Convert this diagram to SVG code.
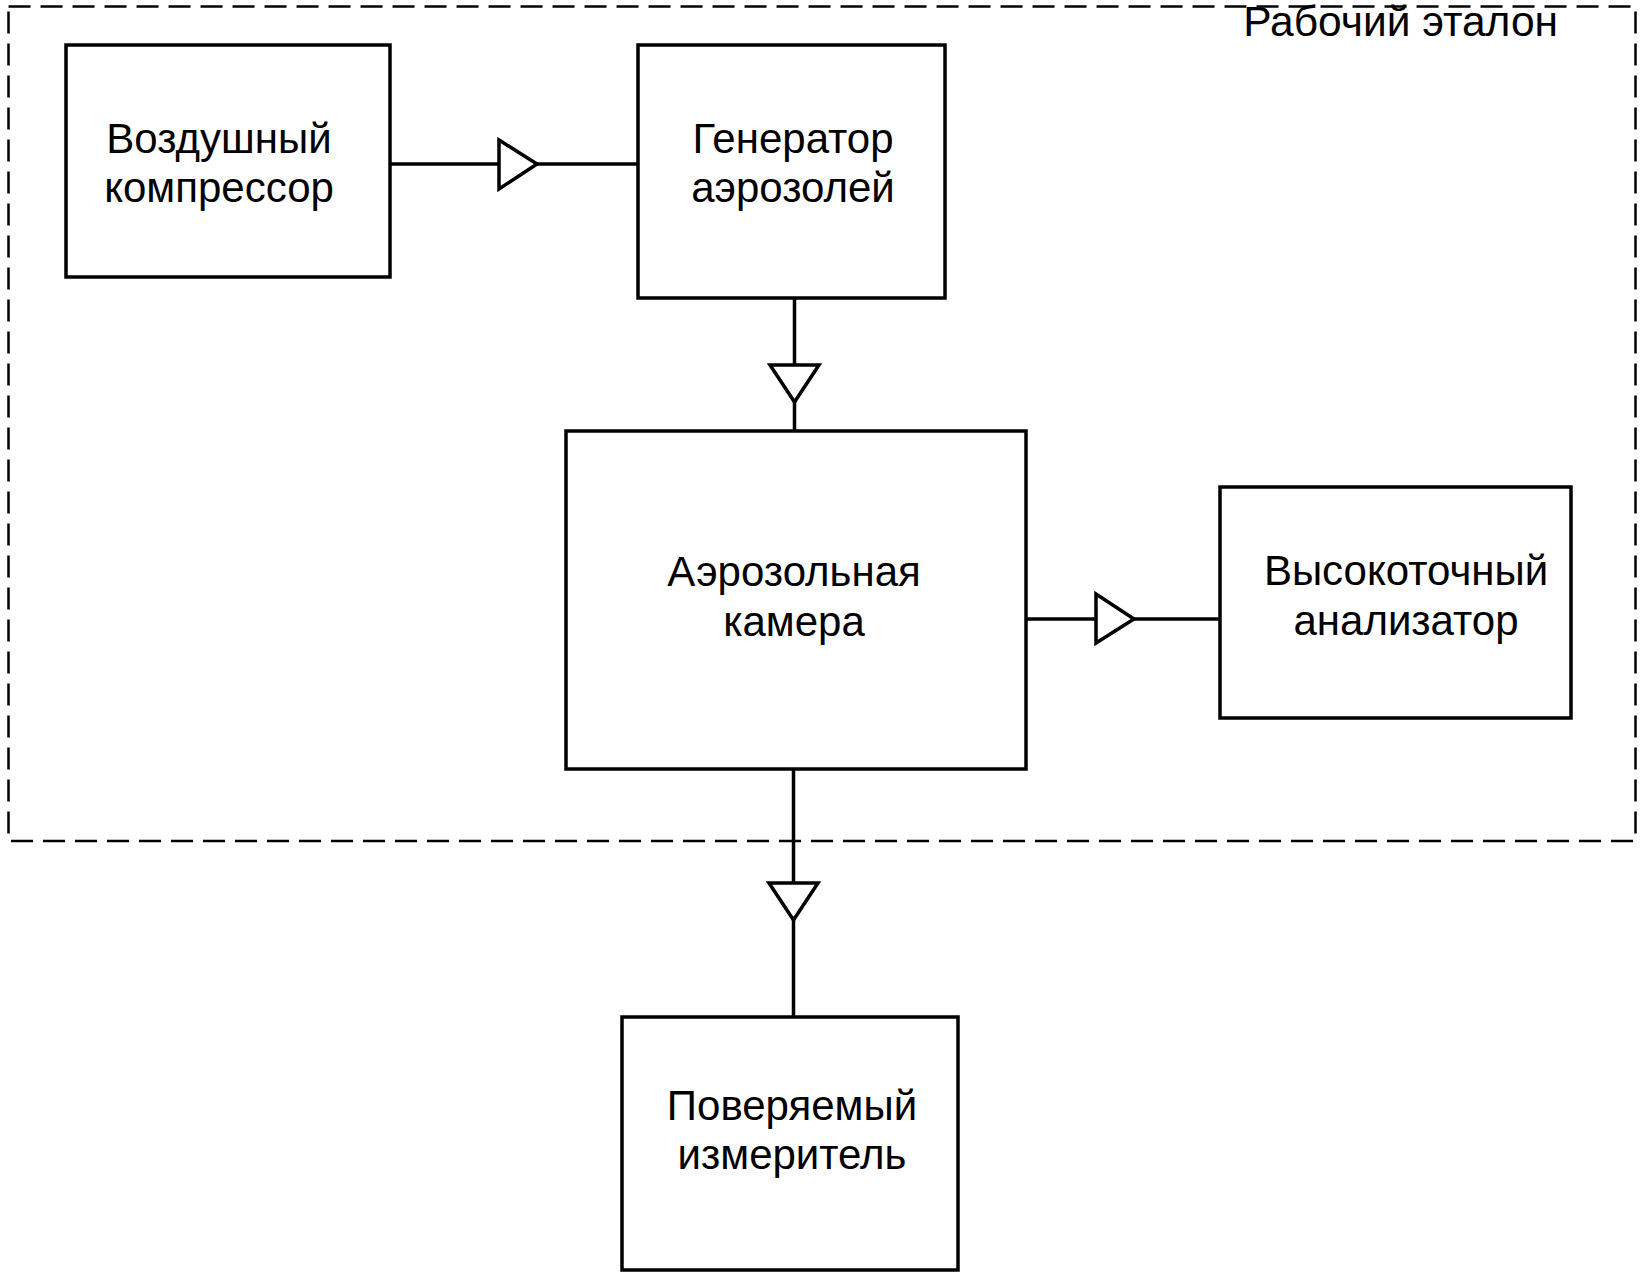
<svg xmlns="http://www.w3.org/2000/svg" width="1646" height="1277" viewBox="0 0 1646 1277">
<style>
.box{fill:#fff;stroke:#000;stroke-width:3.5}
.lbl{font-family:"Liberation Sans",Arial,sans-serif;font-size:42px;fill:#000;text-anchor:middle}
.title{font-family:"Liberation Sans",Arial,sans-serif;font-size:42.5px;fill:#000;text-anchor:end}
.ln{stroke:#000;stroke-width:3.5;fill:none}
.tri{fill:#fff;stroke:#000;stroke-width:3.5;stroke-linejoin:miter}
.frame{fill:none;stroke:#000;stroke-width:2.5;stroke-dasharray:22 10}
</style>
<rect width="1646" height="1277" fill="#fff"/>
<g id="etalon-frame">
<rect class="frame" x="8.5" y="6.5" width="1627" height="834.5"/>
<text class="title" x="1558" y="36">Рабочий эталон</text>
</g>
<g id="connectors">
<line class="ln" x1="390" y1="164" x2="638" y2="164"/>
<polygon class="tri" points="499,140 499,189 537,164"/>
<line class="ln" x1="794.5" y1="298" x2="794.5" y2="431"/>
<polygon class="tri" points="770,365 819,365 794.5,402"/>
<line class="ln" x1="1026" y1="619" x2="1220" y2="619"/>
<polygon class="tri" points="1096,594 1096,643 1134,619"/>
<line class="ln" x1="793.5" y1="769" x2="793.5" y2="1017"/>
<polygon class="tri" points="769,883 818,883 793.5,920"/>
</g>
<g id="compressor">
<rect class="box" x="66" y="45" width="324" height="232"/>
<text class="lbl" x="219" y="153">Воздушный</text>
<text class="lbl" x="219" y="202">компрессор</text>
</g>
<g id="generator">
<rect class="box" x="638" y="45" width="307" height="253"/>
<text class="lbl" x="793" y="153">Генератор</text>
<text class="lbl" x="793" y="202">аэрозолей</text>
</g>
<g id="chamber">
<rect class="box" x="566" y="431" width="460" height="338"/>
<text class="lbl" x="794" y="586">Аэрозольная</text>
<text class="lbl" x="794" y="636">камера</text>
</g>
<g id="analyzer">
<rect class="box" x="1220" y="487" width="351" height="231"/>
<text class="lbl" x="1406" y="585">Высокоточный</text>
<text class="lbl" x="1406" y="635">анализатор</text>
</g>
<g id="meter">
<rect class="box" x="622" y="1017" width="336" height="253"/>
<text class="lbl" x="792" y="1120">Поверяемый</text>
<text class="lbl" x="792" y="1169">измеритель</text>
</g>
</svg>
